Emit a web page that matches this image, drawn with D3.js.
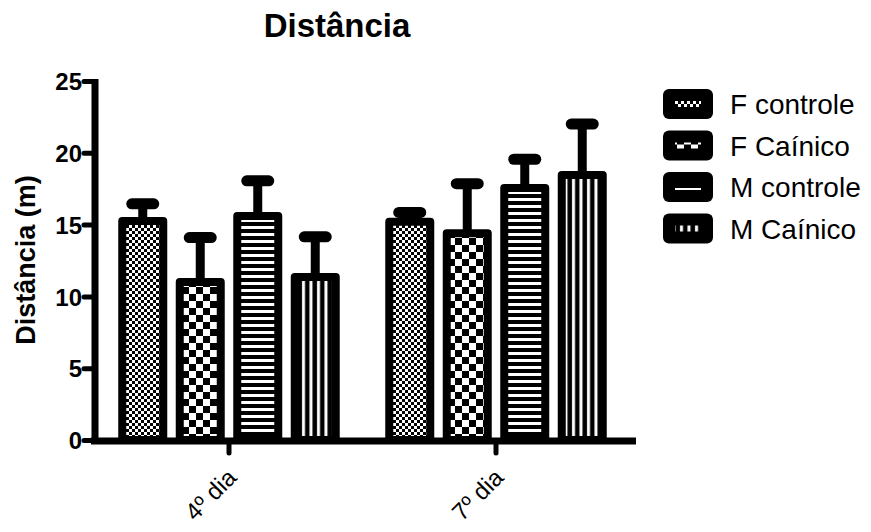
<!DOCTYPE html>
<html>
<head>
<meta charset="utf-8">
<script src="https://cdn.jsdelivr.net/npm/d3@7"></script>
<style>
  body { margin: 0; background: #fff; }
  text { font-family: "Liberation Sans", Arial, sans-serif; fill: #000; }
</style>
</head>
<body>
<div id="chart"></div>
<script>
// Data
var categories = ["4º dia", "7º dia"];
var seriesNames = ["F controle", "F Caínico", "M controle", "M Caínico"];
var means4 = [15.25, 11.0, 15.6, 11.35];
var errors4 = [1.2, 3.1, 2.45, 2.8];
var means7 = [15.2, 14.4, 17.55, 18.45];
var errors7 = [0.65, 3.45, 2.0, 3.55];
var yTicks = [0, 5, 10, 15, 20, 25];
var patternIds = ["finecheck", "bigcheck", "hstripe", "vstripe"];

var svgWidth = 871;
var svgHeight = 532;

var svg = d3.select("#chart")
  .append("svg")
  .attr("width", svgWidth)
  .attr("height", svgHeight);

// Fill patterns (white on black)
var defs = svg.append("defs");

var p1 = defs.append("pattern").attr("id", "finecheck")
  .attr("patternUnits", "userSpaceOnUse").attr("width", 6).attr("height", 6);
p1.append("rect").attr("width", 6).attr("height", 6).attr("fill", "#000");
p1.append("rect").attr("width", 3).attr("height", 3).attr("fill", "#fff");
p1.append("rect").attr("x", 3).attr("y", 3).attr("width", 3).attr("height", 3).attr("fill", "#fff");

var p2 = defs.append("pattern").attr("id", "bigcheck")
  .attr("patternUnits", "userSpaceOnUse").attr("width", 14).attr("height", 14);
p2.append("rect").attr("width", 14).attr("height", 14).attr("fill", "#000");
p2.append("rect").attr("width", 7).attr("height", 7).attr("fill", "#fff");
p2.append("rect").attr("x", 7).attr("y", 7).attr("width", 7).attr("height", 7).attr("fill", "#fff");

var p3 = defs.append("pattern").attr("id", "hstripe")
  .attr("patternUnits", "userSpaceOnUse").attr("width", 7).attr("height", 7);
p3.append("rect").attr("width", 7).attr("height", 7).attr("fill", "#000");
p3.append("rect").attr("y", 2).attr("width", 7).attr("height", 3).attr("fill", "#fff");

var p4 = defs.append("pattern").attr("id", "vstripe")
  .attr("patternUnits", "userSpaceOnUse").attr("width", 7.5).attr("height", 7.5);
p4.append("rect").attr("width", 7.5).attr("height", 7.5).attr("fill", "#000");
p4.append("rect").attr("x", 2).attr("width", 3).attr("height", 7.5).attr("fill", "#fff");

// Scales
var xScale = d3.scaleBand()
  .domain(categories)
  .range([95.5, 629.5]);

var xInner = d3.scaleBand()
  .domain(seriesNames)
  .range([-115, 115])
  .paddingInner(0.287)
  .paddingOuter(0.1435);

var yScale = d3.scaleLinear()
  .domain([0, 25])
  .range([440, 81]);

var data = [];
categories.forEach(function(c, ci) {
  var m = ci === 0 ? means4 : means7;
  var e = ci === 0 ? errors4 : errors7;
  seriesNames.forEach(function(s, si) {
    data.push({ cat: c, series: s, idx: si, mean: m[si], err: e[si] });
  });
});

function barCenter(d) {
  return xScale(d.cat) + xScale.bandwidth() / 2 + xInner(d.series) + xInner.bandwidth() / 2;
}

// Error bars (upper only)
var errG = svg.append("g");
errG.selectAll("line.stem")
  .data(data)
  .enter()
  .append("line")
  .attr("class", "stem")
  .attr("x1", barCenter).attr("x2", barCenter)
  .attr("y1", d => yScale(d.mean))
  .attr("y2", d => yScale(d.mean + d.err))
  .attr("stroke", "#000")
  .attr("stroke-width", 9);
errG.selectAll("line.cap")
  .data(data)
  .enter()
  .append("line")
  .attr("class", "cap")
  .attr("x1", d => barCenter(d) - 11).attr("x2", d => barCenter(d) + 11)
  .attr("y1", d => yScale(d.mean + d.err))
  .attr("y2", d => yScale(d.mean + d.err))
  .attr("stroke", "#000")
  .attr("stroke-width", 11)
  .attr("stroke-linecap", "round");

// Bars
svg.append("g").selectAll("rect")
  .data(data)
  .enter()
  .append("rect")
  .attr("x", d => barCenter(d) - xInner.bandwidth() / 2)
  .attr("y", d => yScale(d.mean))
  .attr("width", xInner.bandwidth())
  .attr("height", d => yScale(0) - yScale(d.mean))
  .attr("fill", d => "url(#" + patternIds[d.idx] + ")")
  .attr("stroke", "#000")
  .attr("stroke-width", 8)
  .attr("stroke-linejoin", "round");

// Y axis
var leftAxis = d3.axisLeft(yScale)
  .tickValues(yTicks)
  .tickSize(11)
  .tickPadding(2);
var yAxisG = svg.append("g")
  .attr("transform", "translate(95,0)")
  .call(leftAxis);
yAxisG.select(".domain").remove();
yAxisG.selectAll(".tick line")
  .attr("stroke", "#000")
  .attr("stroke-width", 5)
  .attr("stroke-linecap", "round");
yAxisG.selectAll(".tick text")
  .style("font-family", "'Liberation Sans', Arial, sans-serif")
  .style("font-size", "24px")
  .style("font-weight", "bold")
  .attr("dy", "0.36em");
svg.append("line")
  .attr("x1", 95).attr("x2", 95)
  .attr("y1", yScale(25) - 2).attr("y2", yScale(0) + 4)
  .attr("stroke", "#000").attr("stroke-width", 7);

// X axis
var bottomAxis = d3.axisBottom(xScale)
  .tickSize(12)
  .tickFormat(d => d);
var xAxisG = svg.append("g")
  .attr("transform", "translate(0,441)")
  .call(bottomAxis);
xAxisG.select(".domain").remove();
xAxisG.selectAll(".tick line")
  .attr("stroke", "#000")
  .attr("stroke-width", 5)
  .attr("stroke-linecap", "round");
xAxisG.selectAll(".tick text")
  .style("font-family", "'Liberation Sans', Arial, sans-serif")
  .style("font-size", "24px")
  .attr("text-anchor", "end")
  .attr("dy", null)
  .attr("y", 0)
  .attr("transform", "translate(9,38) rotate(-45)");
svg.append("line")
  .attr("x1", 91).attr("x2", 636)
  .attr("y1", 441).attr("y2", 441)
  .attr("stroke", "#000").attr("stroke-width", 7);

// Title
svg.append("text")
  .attr("x", 337)
  .attr("y", 37)
  .attr("text-anchor", "middle")
  .style("font-size", "33px")
  .style("font-weight", "bold")
  .text("Distância");

// Y axis label
svg.append("text")
  .attr("transform", "rotate(-90)")
  .attr("x", -260)
  .attr("y", 35)
  .attr("text-anchor", "middle")
  .style("font-size", "27px")
  .style("font-weight", "bold")
  .text("Distância (m)");

// Legend
var legend = svg.append("g").selectAll("g")
  .data(seriesNames)
  .enter()
  .append("g")
  .attr("transform", (d, i) => "translate(663," + (89 + i * 41.5) + ")");
legend.append("rect")
  .attr("width", 50).attr("height", 30)
  .attr("rx", 6).attr("ry", 6)
  .attr("fill", "#000");
legend.append("rect")
  .attr("x", 12).attr("y", 12)
  .attr("width", 26).attr("height", 6)
  .attr("fill", (d, i) => "url(#" + patternIds[i] + ")");
legend.append("text")
  .attr("x", 67)
  .attr("y", 15)
  .attr("dy", "0.36em")
  .style("font-size", "28px")
  .text(d => d);
</script>
</body>
</html>
